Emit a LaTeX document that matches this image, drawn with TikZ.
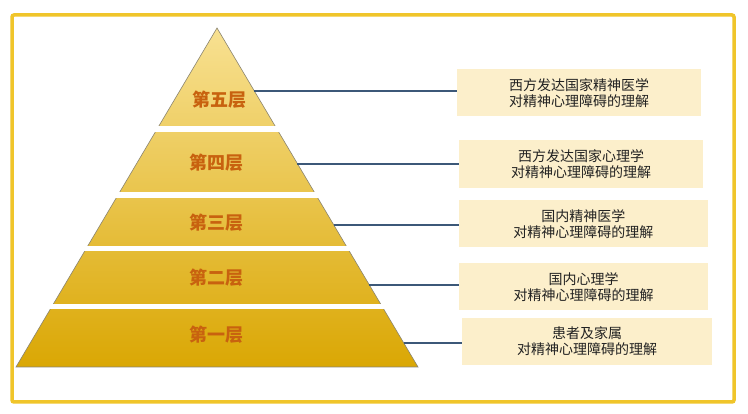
\documentclass[tikz,border=0pt]{standalone}
\usepackage{fontspec}
\setmainfont{Noto Sans CJK SC}
\usetikzlibrary{calc}
\definecolor{framecol}{HTML}{F0C52A}
\definecolor{pyrtop}{HTML}{F8E192}
\definecolor{pyrmid}{HTML}{EFBE18}
\definecolor{pyrbot}{HTML}{DAA704}
\definecolor{edgecol}{HTML}{8A8470}
\definecolor{labcol}{HTML}{C8620F}
\definecolor{linecol}{HTML}{3C5878}
\definecolor{boxcol}{HTML}{FCEFCB}
\definecolor{txtcol}{HTML}{222222}
\begin{document}
\begin{tikzpicture}[x=1pt,y=-1pt,
  layerlabel/.style={font=\fontsize{18}{18}\selectfont\bfseries, text=labcol, inner sep=0pt},
  infobox/.style={fill=boxcol, text=txtcol, align=center, inner sep=0pt, minimum height=47pt,
     font=\fontsize{14}{16}\selectfont},
  conn/.style={draw=linecol, line width=2pt}]
\useasboundingbox (0,0) rectangle (748,414);
\fill[white] (0,0) rectangle (748,414);
\draw[framecol, line width=3.5pt, rounded corners=2pt] (12,15) rectangle (734,402);
% pyramid
\coordinate (apex) at (217,28);
\coordinate (bl) at (16,367);
\coordinate (br) at (418,367);
\shade[top color=pyrtop, middle color=pyrmid, bottom color=pyrbot] (apex) -- (br) -- (bl) -- cycle;
\draw[edgecol, line width=0.6pt] (apex) -- (br) -- (bl) -- cycle;
% gaps
\fill[white] (14,126.5) rectangle (430,132);
\fill[white] (14,192.5) rectangle (430,198);
\fill[white] (14,246.5) rectangle (430,251);
\fill[white] (14,304) rectangle (430,309);
% labels
\node[layerlabel] (l5) at (219,100) {第五层};
\node[layerlabel] (l4) at (216,163) {第四层};
\node[layerlabel] (l3) at (216,222.5) {第三层};
\node[layerlabel] (l2) at (216,278) {第二层};
\node[layerlabel] (l1) at (216,334.5) {第一层};
% boxes
\node[infobox, minimum width=244pt] (b5) at (579,92.7) {西方发达国家精神医学\\对精神心理障碍的理解};
\node[infobox, minimum width=244pt, minimum height=48pt] (b4) at (581,164) {西方发达国家心理学\\对精神心理障碍的理解};
\node[infobox, minimum width=249pt] (b3) at (583.4,223.7) {国内精神医学\\对精神心理障碍的理解};
\node[infobox, minimum width=249pt] (b2) at (583.5,287) {国内心理学\\对精神心理障碍的理解};
\node[infobox, minimum width=250pt] (b1) at (587,341.3) {患者及家属\\对精神心理障碍的理解};
% connector start points on the right edge
\coordinate (e5) at ($(apex)!0.185!(br)$);
\coordinate (e4) at ($(apex)!0.400!(br)$);
\coordinate (e3) at ($(apex)!0.581!(br)$);
\coordinate (e2) at ($(apex)!0.758!(br)$);
\coordinate (e1) at ($(apex)!0.929!(br)$);
\draw[conn] (e5) -- (e5 -| b5.west);
\draw[conn] (e4) -- (e4 -| b4.west);
\draw[conn] (e3) -- (e3 -| b3.west);
\draw[conn] (e2) -- (e2 -| b2.west);
\draw[conn] (e1) -- (e1 -| b1.west);
\end{tikzpicture}
\end{document}
